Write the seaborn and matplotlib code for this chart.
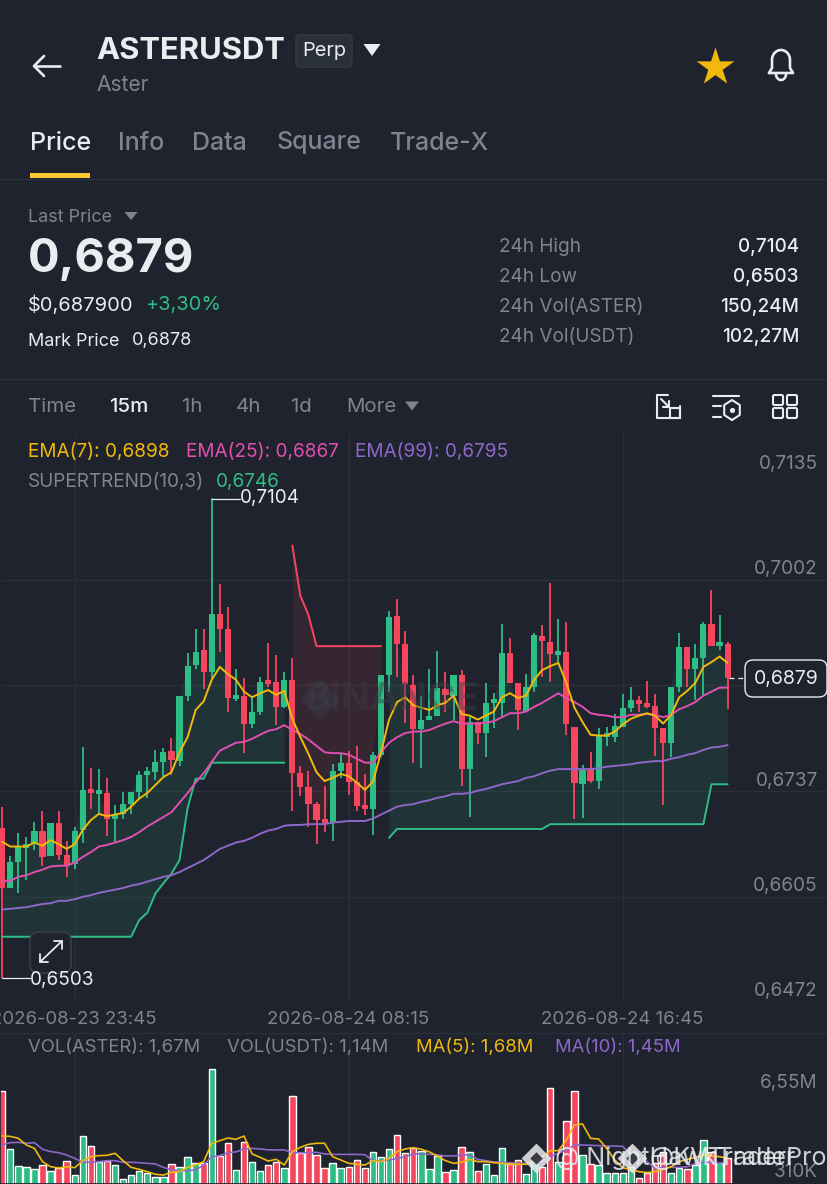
import numpy as np
import pandas as pd
import matplotlib
matplotlib.use("Agg")
import matplotlib.pyplot as plt
from matplotlib.patches import FancyBboxPatch, Polygon, Rectangle
import seaborn as sns

# candles, 15m
opens = [0.6691,0.6616,0.6648,0.6666,0.6673,0.6688,0.6656,0.6698,0.6658,0.6646,0.6689,0.6740,0.6734,0.6735,0.6703,0.6709,0.6721,0.6736,0.6758,0.6761,
         0.6774,0.6788,0.6775,0.6856,0.6895,0.6914,0.6887,0.6959,0.6941,0.6853,0.6856,0.6822,0.6836,0.6874,0.6874,0.6843,0.6877,0.6760,0.6743,0.6721,
         0.6701,0.6698,0.6763,0.6773,0.6749,0.6719,0.6715,0.6783,0.6883,0.6957,0.6922,0.6870,0.6815,0.6826,0.6831,0.6865,0.6857,0.6883,0.6765,0.6824,
         0.6810,0.6848,0.6848,0.6910,0.6873,0.6838,0.6868,0.6932,0.6924,0.6908,0.6912,0.6818,0.6746,0.6765,0.6750,0.6805,0.6805,0.6818,0.6841,0.6851,
         0.6844,0.6844,0.6817,0.6798,0.6868,0.6918,0.6891,0.6904,0.6947,0.6919,0.6922]
highs = [0.6718,0.6656,0.6685,0.6680,0.6699,0.6713,0.6698,0.6713,0.6675,0.6693,0.6793,0.6766,0.6765,0.6754,0.6720,0.6736,0.6736,0.6763,0.6768,0.6789,
         0.6792,0.6804,0.6857,0.6910,0.6941,0.6941,0.7105,0.6997,0.6968,0.6890,0.6879,0.6856,0.6880,0.6923,0.6908,0.6887,0.6904,0.6769,0.6763,0.6724,
         0.6744,0.6771,0.6785,0.6788,0.6794,0.6759,0.6786,0.6883,0.6963,0.6978,0.6938,0.6883,0.6857,0.6890,0.6913,0.6887,0.6883,0.6889,0.6830,0.6824,
         0.6873,0.6860,0.6947,0.6929,0.6873,0.6884,0.6936,0.6946,0.6998,0.6953,0.6949,0.6818,0.6770,0.6786,0.6817,0.6818,0.6834,0.6859,0.6868,0.6857,
         0.6875,0.6859,0.6817,0.6868,0.6936,0.6918,0.6922,0.6949,0.6989,0.6958,0.6924]
lows = [0.6503,0.6616,0.6610,0.6626,0.6664,0.6643,0.6656,0.6651,0.6630,0.6640,0.6673,0.6715,0.6708,0.6681,0.6674,0.6703,0.6709,0.6729,0.6729,0.6751,
        0.6756,0.6758,0.6769,0.6850,0.6890,0.6865,0.6879,0.6912,0.6837,0.6850,0.6785,0.6816,0.6833,0.6868,0.6820,0.6842,0.6713,0.6731,0.6693,0.6671,
        0.6686,0.6675,0.6754,0.6733,0.6713,0.6708,0.6683,0.6780,0.6862,0.6880,0.6823,0.6773,0.6766,0.6826,0.6831,0.6837,0.6826,0.6744,0.6705,0.6797,
        0.6780,0.6816,0.6829,0.6873,0.6814,0.6838,0.6862,0.6880,0.6874,0.6899,0.6808,0.6703,0.6704,0.6748,0.6740,0.6794,0.6799,0.6818,0.6836,0.6836,
        0.6842,0.6781,0.6720,0.6780,0.6862,0.6868,0.6852,0.6856,0.6919,0.6914,0.6840]
closes = [0.6616,0.6648,0.6668,0.6668,0.6688,0.6655,0.6698,0.6658,0.6644,0.6688,0.6739,0.6735,0.6735,0.6703,0.6709,0.6721,0.6736,0.6758,0.6763,0.6774,
          0.6786,0.6776,0.6857,0.6894,0.6912,0.6887,0.6959,0.6941,0.6854,0.6857,0.6822,0.6836,0.6874,0.6872,0.6843,0.6877,0.6760,0.6743,0.6721,0.6701,
          0.6698,0.6763,0.6773,0.6749,0.6719,0.6715,0.6783,0.6883,0.6956,0.6922,0.6872,0.6815,0.6827,0.6832,0.6867,0.6858,0.6883,0.6765,0.6824,0.6810,
          0.6848,0.6849,0.6910,0.6873,0.6839,0.6868,0.6933,0.6926,0.6909,0.6912,0.6821,0.6748,0.6764,0.6750,0.6808,0.6808,0.6819,0.6841,0.6851,0.6847,
          0.6843,0.6817,0.6798,0.6868,0.6918,0.6891,0.6904,0.6947,0.6919,0.6922,0.6879]

ema7 = [0.6674,0.6668,0.6668,0.6668,0.6673,0.6669,0.6676,0.6671,0.6665,0.6671,0.6689,0.6701,0.6709,0.6706,0.6708,0.6710,0.6718,0.6728,0.6735,0.6745,
        0.6755,0.6761,0.6786,0.6805,0.6839,0.6850,0.6877,0.6893,0.6884,0.6877,0.6862,0.6855,0.6860,0.6864,0.6858,0.6863,0.6828,0.6805,0.6784,0.6761,
        0.6750,0.6754,0.6759,0.6756,0.6748,0.6739,0.6749,0.6786,0.6827,0.6849,0.6855,0.6845,0.6842,0.6839,0.6845,0.6848,0.6857,0.6834,0.6832,0.6827,
        0.6832,0.6837,0.6855,0.6860,0.6854,0.6857,0.6877,0.6889,0.6894,0.6898,0.6873,0.6842,0.6824,0.6808,0.6807,0.6807,0.6812,0.6821,0.6828,0.6832,
        0.6835,0.6832,0.6822,0.6833,0.6855,0.6863,0.6873,0.6893,0.6899,0.6906,0.6898]
ema25 = [0.6625,0.6625,0.6630,0.6632,0.6636,0.6639,0.6643,0.6644,0.6644,0.6648,0.6655,0.6661,0.6668,0.6670,0.6673,0.6676,0.6680,0.6686,0.6693,0.6699,
         0.6705,0.6711,0.6723,0.6735,0.6748,0.6760,0.6774,0.6788,0.6793,0.6798,0.6799,0.6803,0.6808,0.6813,0.6815,0.6820,0.6814,0.6809,0.6802,0.6794,
         0.6786,0.6785,0.6785,0.6783,0.6778,0.6773,0.6773,0.6786,0.6798,0.6805,0.6810,0.6812,0.6812,0.6814,0.6818,0.6822,0.6825,0.6822,0.6822,0.6822,
         0.6823,0.6825,0.6830,0.6835,0.6835,0.6837,0.6843,0.6848,0.6854,0.6860,0.6854,0.6849,0.6843,0.6835,0.6833,0.6832,0.6830,0.6830,0.6833,0.6833,
         0.6834,0.6833,0.6830,0.6833,0.6840,0.6844,0.6849,0.6857,0.6862,0.6867,0.6867]
ema99 = [0.6589,0.6590,0.6591,0.6592,0.6594,0.6596,0.6597,0.6600,0.6600,0.6602,0.6605,0.6607,0.6610,0.6612,0.6614,0.6616,0.6619,0.6621,0.6624,0.6627,
         0.6630,0.6632,0.6636,0.6641,0.6646,0.6651,0.6658,0.6665,0.6669,0.6673,0.6675,0.6679,0.6684,0.6688,0.6690,0.6694,0.6695,0.6695,0.6696,0.6696,
         0.6696,0.6698,0.6699,0.6700,0.6700,0.6700,0.6703,0.6708,0.6713,0.6718,0.6720,0.6721,0.6724,0.6726,0.6729,0.6731,0.6734,0.6734,0.6735,0.6738,
         0.6740,0.6743,0.6746,0.6748,0.6750,0.6754,0.6756,0.6760,0.6763,0.6765,0.6765,0.6765,0.6765,0.6765,0.6766,0.6768,0.6769,0.6770,0.6771,0.6773,
         0.6774,0.6775,0.6775,0.6778,0.6780,0.6783,0.6785,0.6789,0.6792,0.6793,0.6795]

# supertrend comes in three pieces: up, down, up again
st_up_a = [0.6555]*17 + [0.6576,0.6585,0.6609,0.6622,0.6634,0.6651,0.6716,0.6753,0.6753] + [0.6773]*10
st_down = [0.7045,0.6982,0.6958,0.6919] + [0.6919]*8
st_up_b = [0.6679] + [0.6690]*19 + [0.6696]*20 + [0.6746]*3

volumes = [6.03,2.25,1.17,1.08,0.97,1.23,0.84,1.02,1.49,0.58,3.11,2.49,1.45,1.49,1.23,0.35,0.56,0.84,0.74,0.48,
           0.48,1.28,1.10,1.73,1.38,1.34,7.44,1.82,2.64,0.91,2.72,1.45,0.84,1.23,1.45,1.06,5.71,1.99,2.42,1.86,
           1.06,1.34,1.06,1.12,1.54,1.02,2.05,1.73,2.27,3.18,1.99,2.31,2.16,0.95,1.82,0.76,0.91,2.42,2.05,0.84,
           1.30,0.58,2.31,1.28,1.56,0.63,1.51,1.12,6.20,1.45,4.09,6.03,1.88,1.30,1.23,0.69,0.69,0.69,1.08,0.37,
           0.69,1.38,2.10,0.74,1.02,0.95,1.23,2.85,2.10,1.34,1.67]
vol_ma5 = [3.11,3.09,2.96,2.53,2.31,1.45,1.12,1.04,1.12,1.06,1.51,1.77,1.84,1.86,1.99,1.51,1.08,0.95,0.80,0.63,
           0.58,0.76,0.80,1.08,1.23,1.45,2.64,2.81,2.98,2.90,3.11,1.95,1.73,1.49,1.60,1.23,2.10,2.38,2.57,2.64,
           2.64,1.77,1.56,1.34,1.28,1.23,1.51,1.45,1.66,2.10,2.27,2.36,2.25,2.08,1.82,1.51,1.34,1.41,1.60,1.45,
           1.45,1.38,1.34,1.30,1.28,1.28,1.45,1.77,2.16,2.16,2.85,3.83,3.89,2.96,2.92,2.31,1.56,1.06,0.91,0.80,
           0.74,0.80,0.95,1.12,1.45,1.60,1.73,1.88,1.82,1.77,1.68]
vol_ma10 = [2.53,2.68,2.70,2.64,2.68,2.25,2.10,2.03,1.88,1.66,1.41,1.41,1.45,1.51,1.51,1.41,1.41,1.38,1.34,1.30,
            1.08,0.91,0.86,0.86,0.91,1.23,1.77,1.84,2.03,2.08,2.27,2.31,2.27,2.21,2.21,2.21,2.03,2.03,2.03,2.05,
            1.95,1.92,1.92,1.92,1.92,1.90,1.51,1.51,1.56,1.66,1.77,1.95,1.95,1.92,1.88,1.82,1.82,1.88,1.88,1.60,
            1.51,1.43,1.41,1.38,1.34,1.34,1.38,1.45,1.77,1.99,2.21,2.53,2.53,2.51,2.49,2.46,2.46,2.44,1.88,1.66,
            1.45,1.02,1.06,1.08,1.08,1.12,1.34,1.41,1.41,1.34,1.45]

price_ticks = [0.7002, 0.6870, 0.6737, 0.6605, 0.6472]
tick_labels = ["0,7135", "0,7002", "0,6737", "0,6605", "0,6472"]
date_labels = ["2026-08-23 23:45", "2026-08-24 08:15", "2026-08-24 16:45"]
date_index = [9, 43, 77]

BG = "#1F232D"
GRID = "#2B2F39"
UP = "#2EBD85"
DOWN = "#F6465D"
YELLOW = "#F0B90B"
PINK = "#E14FB0"
PURPLE = "#8D67C9"
GRAY = "#7D8591"
WHITE = "#EAECEF"

W, H = 828, 1184
sns.set_theme(style="dark", rc={"figure.facecolor": BG, "axes.facecolor": BG, "axes.edgecolor": BG})
plt.rcParams["font.family"] = ["Inter", "DejaVu Sans"]

fig = plt.figure(figsize=(W / 100, H / 100), dpi=100)


def px_axes(top, bottom):
    return fig.add_axes([0, 1 - bottom / H, 1, (bottom - top) / H])


idx = np.arange(len(closes))
x_lim = (-0.273, 102.46)

df = pd.DataFrame({"i": idx, "open": opens, "high": highs, "low": lows, "close": closes,
                   "ema7": ema7, "ema25": ema25, "ema99": ema99, "vol": volumes,
                   "ma5": vol_ma5, "ma10": vol_ma10})
df["side"] = np.where(df["close"] >= df["open"], "up", "down")
side_colors = {"up": UP, "down": DOWN}

# price panel
ax = px_axes(433, 1003)
for p in price_ticks:
    ax.axhline(p, color=GRID, lw=1, zorder=0)
for i in date_index:
    ax.axvline(i, color=GRID, lw=1, zorder=0)

up_a = df["i"] < len(st_up_a)
down_part = (df["i"] >= len(st_up_a)) & (df["i"] < len(st_up_a) + len(st_down))
up_b = df["i"] >= len(st_up_a) + len(st_down)
ax.fill_between(df["i"][up_a], st_up_a, df["close"][up_a], color=UP, alpha=0.11, lw=0, zorder=1)
ax.fill_between(df["i"][down_part], st_down, df["close"][down_part], color=DOWN, alpha=0.11, lw=0, zorder=1)
ax.fill_between(df["i"][up_b], st_up_b, df["close"][up_b], color=UP, alpha=0.11, lw=0, zorder=1)

for side, part in df.groupby("side"):
    ax.vlines(part["i"], part["low"], part["high"], color=side_colors[side], lw=1.3, zorder=3)
    body = (part["close"] - part["open"]).abs().clip(lower=0.0005)
    ax.bar(part["i"], body, bottom=part[["open", "close"]].min(axis=1), width=0.76,
           color=side_colors[side], lw=0, zorder=3)

for name, color in (("ema99", PURPLE), ("ema25", PINK), ("ema7", YELLOW)):
    sns.lineplot(data=df, x="i", y=name, color=color, lw=1.4, ax=ax, zorder=5, estimator=None)
for piece, pos, color in ((st_up_a, df["i"][up_a], UP), (st_down, df["i"][down_part], DOWN), (st_up_b, df["i"][up_b], UP)):
    sns.lineplot(x=pos.values, y=piece, color=color, lw=1.4, ax=ax, zorder=4, estimator=None)

ax.set_xlim(*x_lim)
ax.set_ylim(0.6472, 0.7186)
ax.set(xlabel="", ylabel="", xticks=[], yticks=[])

# volume panel
ax_vol = px_axes(1033, 1184)
for i in date_index:
    ax_vol.axvline(i, color=GRID, lw=1, zorder=0)
sns.barplot(data=df, x="i", y="vol", hue="side", palette=side_colors, native_scale=True, dodge=False,
            width=0.8, legend=False, ax=ax_vol, zorder=2, saturation=1)
sns.lineplot(data=df, x="i", y="ma10", color=PURPLE, lw=1.2, ax=ax_vol, zorder=4, estimator=None)
sns.lineplot(data=df, x="i", y="ma5", color=YELLOW, lw=1.2, ax=ax_vol, zorder=5, estimator=None)
ax_vol.set_xlim(*x_lim)
ax_vol.set_ylim(0, 9.79)
ax_vol.set(xlabel="", ylabel="", xticks=[], yticks=[])

# everything around the chart, in screen pixels
ui = fig.add_axes([0, 0, 1, 1], zorder=10)
ui.set_xlim(0, W)
ui.set_ylim(H, 0)
ui.axis("off")
ui.patch.set_alpha(0)


def label(x, y, s, px, color=GRAY, ha="left", weight="normal", alpha=1.0, z=6):
    return ui.text(x, y, s, fontsize=px * 0.72, color=color, ha=ha, va="center", fontweight=weight, alpha=alpha, zorder=z)


def tri(x, y, w, h, color):
    ui.add_patch(Polygon([(x - w / 2, y - h / 2), (x + w / 2, y - h / 2), (x, y + h / 2)], color=color, lw=0))


def stroke(xs, ys, color=WHITE, lw=1.6):
    ui.plot(xs, ys, color=color, lw=lw, solid_capstyle="round", solid_joinstyle="round")


def hline(y, color=GRID):
    ui.plot([0, W], [y, y], color=color, lw=1)


# header
stroke([34, 60], [66, 66], lw=1.9)
stroke([44, 34, 44], [56, 66, 76], lw=1.9)
label(96, 51, "ASTERUSDT", 31, WHITE, weight="bold")
ui.add_patch(FancyBboxPatch((296, 35), 56, 32, boxstyle="round,pad=0,rounding_size=4", fc="#2A303A", ec="#343A45", lw=1))
label(324, 51, "Perp", 20, WHITE, ha="center")
tri(372, 50, 17, 12, WHITE)
label(96, 85, "Aster", 21, GRAY)
ui.scatter([715], [67], marker="*", s=820, color=YELLOW, lw=0)
bell_t = np.linspace(np.pi, 0, 30)
stroke(np.r_[769, 772, 772 + 9 * (1 + np.cos(bell_t)), 790, 793, 769],
       np.r_[73, 68, 60 + 10 * (-np.sin(bell_t)), 68, 73, 73], lw=1.9)
stroke(776 + 5 * (1 + np.cos(bell_t[::-1] * -1)), 74 + 6 * np.sin(bell_t), lw=1.9)

for x, s, c in ((30, "Price", WHITE), (118, "Info", GRAY), (192, "Data", GRAY), (277, "Square", GRAY), (390, "Trade-X", GRAY)):
    label(x, 143, s, 25, c, weight="medium")
ui.add_patch(Rectangle((30, 173), 60, 5, color="#FCC92E", lw=0))
hline(178.5)

# price block
label(28, 217, "Last Price", 18, GRAY)
tri(131, 216, 13, 8, GRAY)
label(28, 260, "0,6879", 47, WHITE, weight="bold")
label(28, 305, "$0,687900", 20, WHITE)
label(145, 305, "+3,30%", 20, UP)
label(28, 341, "Mark Price", 18, WHITE)
label(132, 341, "0,6878", 18, WHITE)
for y, name, val in ((247, "24h High", "0,7104"), (277, "24h Low", "0,6503"),
                     (307, "24h Vol(ASTER)", "150,24M"), (337, "24h Vol(USDT)", "102,27M")):
    label(499, y, name, 19, GRAY)
    label(799, y, val, 19, WHITE, ha="right", weight="medium")
hline(379)

# interval row
for x, s, c in ((28, "Time", GRAY), (109, "15m", WHITE), (182, "1h", GRAY), (236, "4h", GRAY), (291, "1d", GRAY), (346, "More", GRAY)):
    label(x, 407, s, 20.5, c, weight="medium" if c == WHITE else "normal")
tri(412, 406, 14, 9, GRAY)
stroke([668, 657, 657, 680, 680], [395, 395, 418, 418, 406], lw=1.5)
ui.add_patch(Rectangle((670, 408), 10, 10, fc="none", ec=WHITE, lw=1.5))
stroke([661, 669], [399, 407], lw=1.5)
stroke([669, 669, 663], [401, 407, 407], lw=1.5)
stroke([713, 739], [396, 396], lw=1.5)
stroke([713, 721], [406, 406], lw=1.5)
stroke([713, 721], [417, 417], lw=1.5)
hex_t = np.linspace(np.pi / 2, np.pi / 2 + 2 * np.pi, 7)
stroke(732 + 9 * np.cos(hex_t), 410 + 10 * np.sin(hex_t), lw=1.5)
ui.scatter([732], [410], s=14, color=WHITE, lw=0)
for bx in (773, 787):
    for by in (395, 408):
        ui.add_patch(FancyBboxPatch((bx, by), 10, 10, boxstyle="round,pad=0,rounding_size=1.5", fc="none", ec=WHITE, lw=1.5))

# indicator legends
label(28, 452, "EMA(7): 0,6898", 19, YELLOW)
label(186, 452, "EMA(25): 0,6867", 19, PINK)
label(355, 452, "EMA(99): 0,6795", 19, PURPLE)
label(28, 482, "SUPERTREND(10,3)", 19, GRAY)
label(216, 482, "0,6746", 19, UP)
label(28, 1047, "VOL(ASTER): 1,67M", 18.5, GRAY)
label(227, 1047, "VOL(USDT): 1,14M", 18.5, GRAY)
label(416, 1047, "MA(5): 1,68M", 18.5, YELLOW)
label(555, 1047, "MA(10): 1,45M", 18.5, PURPLE)

# axis labels
for y, s in zip((464, 569, 781, 886, 991), tick_labels):
    label(818, y, s, 19, GRAY, ha="right")
label(818, 1083, "6,55M", 19, GRAY, ha="right")
label(818, 1172, "310K", 19, GRAY, ha="right")
for x, s in zip((74, 348, 622), date_labels):
    label(x, 1019, s, 18.5, GRAY, ha="center")
hline(1033)

# high, low and last price markers
stroke([212, 240], [498.5, 498.5], color=WHITE, lw=0.9)
label(240, 498, "0,7104", 19, WHITE)
stroke([2, 30], [978, 978], color=WHITE, lw=0.9)
label(30, 980, "0,6503", 19, WHITE)
ui.plot([729, 743], [678, 678], color=WHITE, lw=0.9, ls=(0, (4, 3)))
ui.add_patch(FancyBboxPatch((745, 660), 82, 37, boxstyle="round,pad=0,rounding_size=8", fc=BG, ec=WHITE, lw=1))
label(786, 679, "0,6879", 19.5, WHITE, ha="center")

# zoom button
ui.add_patch(FancyBboxPatch((30, 932), 41, 41, boxstyle="round,pad=0,rounding_size=9", fc=BG, ec="#383C46", lw=1.2))
stroke([40, 62], [962, 941], lw=1.3)
stroke([54, 62, 62], [941, 941, 949], lw=1.3)
stroke([40, 40, 48], [954, 962, 962], lw=1.3)

# watermarks
label(392, 700, "BINANCE", 38, "#3A3E48", ha="center", weight="bold", alpha=0.45, z=2)
ui.scatter([320], [699], marker="D", s=420, color="#3A3E48", alpha=0.45, lw=0)
label(555, 1158, "@ NightHawkTrader", 25, WHITE, alpha=0.85)
label(650, 1158, "@KVTraderPro", 25, WHITE, alpha=0.85)
ui.scatter([536, 632], [1158, 1158], marker="D", s=230, color=WHITE, alpha=0.85, lw=0)
ui.scatter([536, 632], [1158, 1158], marker="D", s=40, color=BG, alpha=0.85, lw=0)

fig.savefig("out.png", dpi=100, facecolor=BG)
